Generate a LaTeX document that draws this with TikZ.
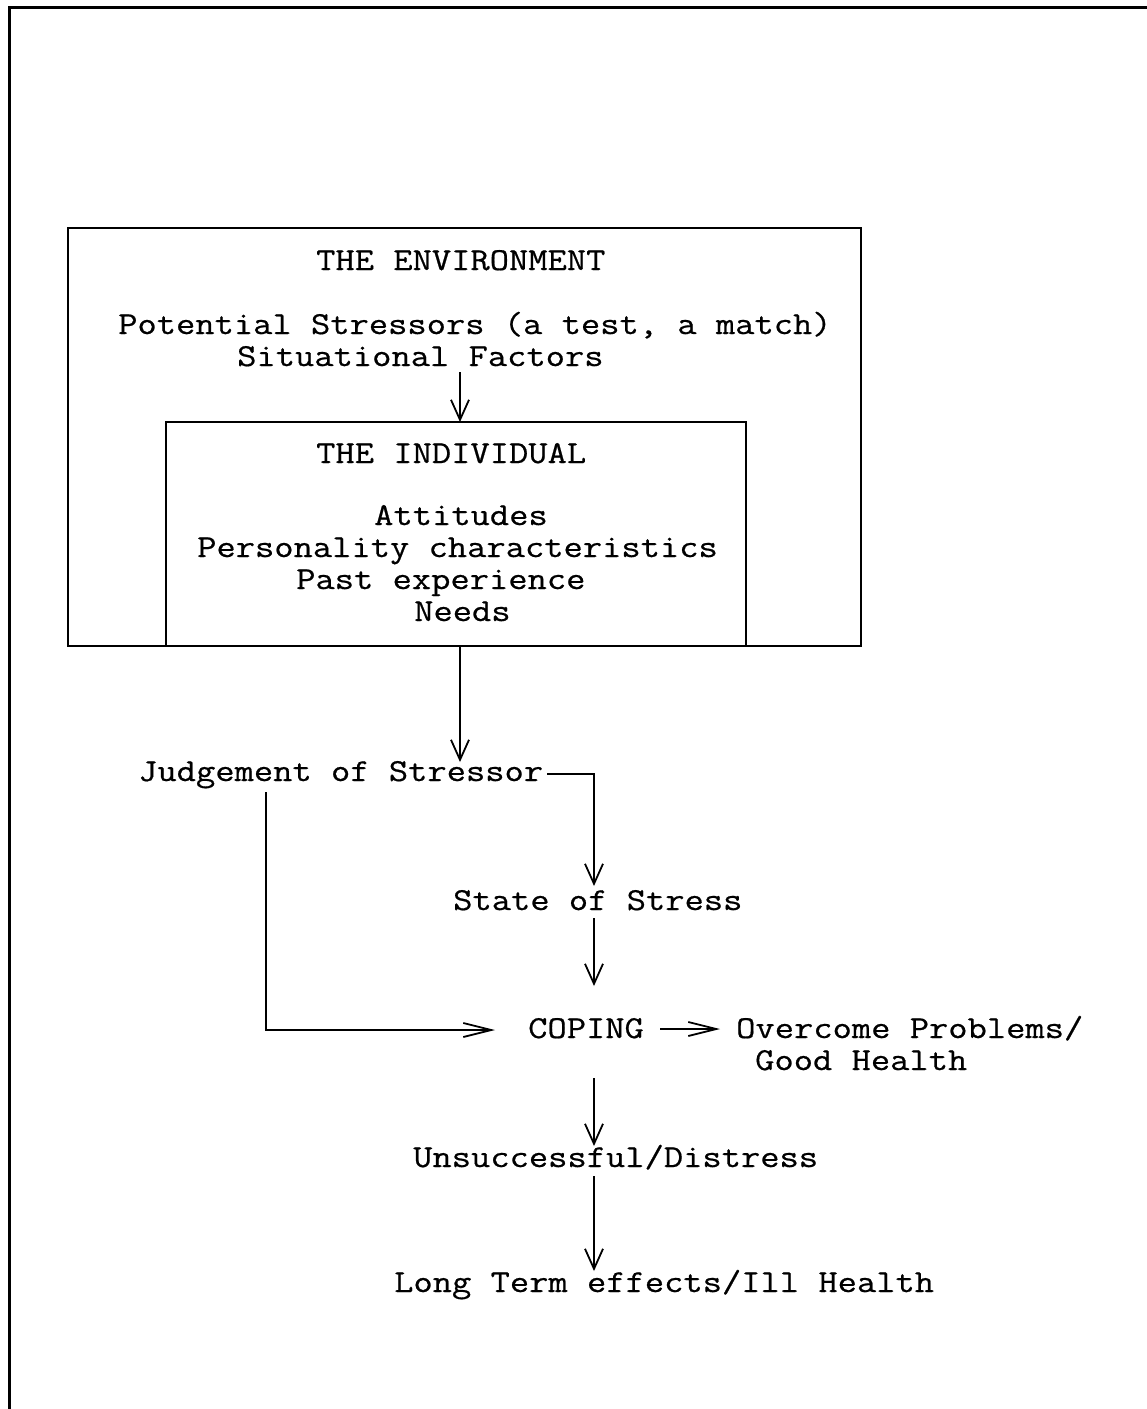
\documentclass[tikz,border=0pt]{standalone}
\usepackage{fontspec}
\newfontfamily\diagfont{Latin Modern Mono}[FakeStretch=1.17,FakeBold=0.6]
\usetikzlibrary{arrows.meta}
\begin{document}
\begin{tikzpicture}[x=1pt,y=-1pt,
  txt/.style={anchor=base west,inner sep=0pt,font=\diagfont\fontsize{32}{32}\selectfont},
  ln/.style={line width=1.8pt},
  varr/.style={ln,-{Straight Barb[length=20pt,width=18pt,line width=1.8pt]}},
  harr/.style={ln,-{Straight Barb[length=28pt,width=14pt,line width=1.8pt]}}]
\useasboundingbox (0,0) rectangle (1147,1409);
% outer frame (top and left only)
\draw[line width=3pt] (1147,7) -- (9,7) -- (9,1409);
% environment box
\draw[ln] (68,228) rectangle (861,646);
% individual box (open at bottom)
\draw[ln] (166,646) -- (166,422) -- (746,422) -- (746,646);
% texts
\node[txt] (env) at (316,270) {THE ENVIRONMENT};
\node[txt] (pot) at (118,334) {Potential Stressors (a test, a match)};
\node[txt] (sit) at (237,366) {Situational Factors};
\node[txt] (ind) at (316,463) {THE INDIVIDUAL};
\node[txt] (att) at (374,525) {Attitudes};
\node[txt] (per) at (197,557) {Personality characteristics};
\node[txt] (past) at (296,589) {Past experience};
\node[txt] (needs) at (414,621) {Needs};
\node[txt] (judg) at (138,781) {Judgement of Stressor};
\node[txt] (state) at (453,910) {State of Stress};
\node[txt] (cop) at (528,1038) {COPING};
\node[txt] (over) at (736,1038) {Overcome Problems/};
\node[txt] (good) at (755,1070) {Good Health};
\node[txt] (uns) at (413,1167) {Unsuccessful/Distress};
\node[txt] (long) at (394,1292) {Long Term effects/Ill Health};
% connector coordinates
\coordinate (a1s) at (460,372);
\coordinate (a1e) at (460,422);
\coordinate (a2s) at (460,646);
\coordinate (a2e) at (460,762);
\coordinate (jr) at (547,774);
\coordinate (jc) at (594,774);
\coordinate (se) at (594,886);
\coordinate (s2s) at (594,918);
\coordinate (s2e) at (594,986);
\coordinate (jl) at (266,792);
\coordinate (jlc) at (266,1030);
\coordinate (ce) at (495,1030);
\coordinate (cos) at (660,1029);
\coordinate (coe) at (720,1029);
\coordinate (c2s) at (594,1078);
\coordinate (c2e) at (594,1146);
\coordinate (u2s) at (594,1176);
\coordinate (u2e) at (594,1271);
% arrows
\draw[varr] (a1s) -- (a1e);
\draw[varr] (a2s) -- (a2e);
\draw[varr] (jr) -- (jc) -- (se);
\draw[varr] (s2s) -- (s2e);
\draw[harr] (jl) -- (jlc) -- (ce);
\draw[harr] (cos) -- (coe);
\draw[varr] (c2s) -- (c2e);
\draw[varr] (u2s) -- (u2e);
\end{tikzpicture}
\end{document}
